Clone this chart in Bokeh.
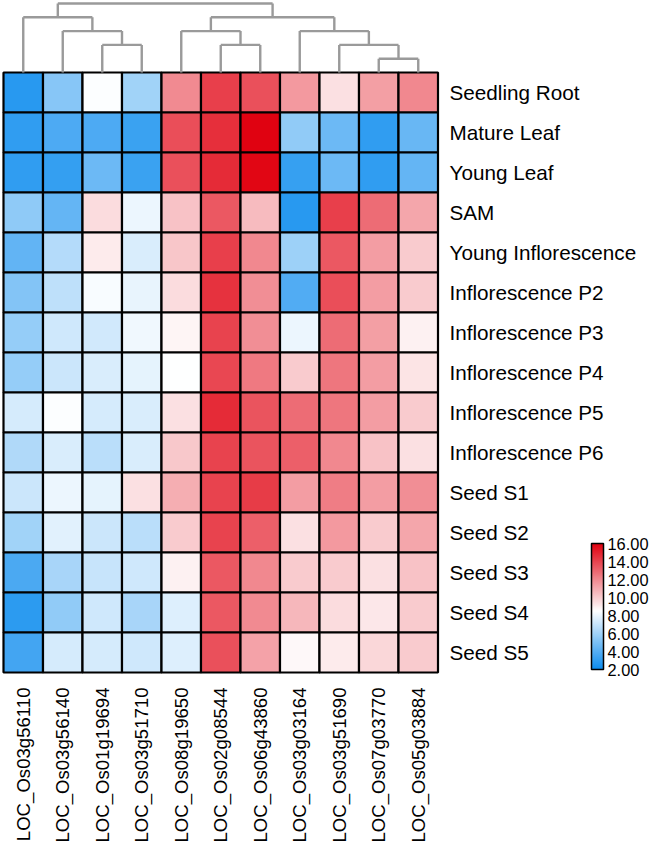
import numpy as np
from bokeh.plotting import figure
from bokeh.models import (ColumnDataSource, Range1d, LinearColorMapper, ColorBar,
                          FixedTicker, PrintfTickFormatter)
from bokeh.transform import transform
from bokeh.core.properties import value
from bokeh.embed import file_html
from bokeh.resources import INLINE

# ---------------- data ----------------
genes = ["LOC_Os03g56110", "LOC_Os03g56140", "LOC_Os01g19694", "LOC_Os03g51710",
         "LOC_Os08g19650", "LOC_Os02g08544", "LOC_Os06g43860", "LOC_Os03g03164",
         "LOC_Os03g51690", "LOC_Os07g03770", "LOC_Os05g03884"]
tissues = ["Seedling Root", "Mature Leaf", "Young Leaf", "SAM", "Young Inflorescence",
           "Inflorescence P2", "Inflorescence P3", "Inflorescence P4", "Inflorescence P5",
           "Inflorescence P6", "Seed S1", "Seed S2", "Seed S3", "Seed S4", "Seed S5"]

seedling_root = [2.8, 5.3, 8.4, 6.0, 11.9, 14.1, 13.6, 11.5, 9.4, 11.3, 12.0]
mature_leaf   = [3.0, 3.8, 3.8, 3.3, 13.7, 14.6, 15.9, 5.6, 4.6, 3.0, 4.5]
young_leaf    = [3.0, 3.1, 4.6, 3.3, 13.6, 14.7, 15.8, 3.2, 4.6, 3.0, 4.4]
sam           = [5.5, 4.4, 9.5, 8.0, 10.3, 13.4, 10.5, 2.8, 14.1, 12.8, 11.1]
young_infl    = [4.3, 6.5, 9.1, 7.5, 10.2, 14.1, 12.0, 5.9, 13.4, 11.4, 10.0]
infl_p2       = [5.2, 6.8, 8.3, 7.9, 9.5, 14.5, 11.8, 3.9, 13.7, 11.4, 10.0]
infl_p3       = [5.7, 7.2, 7.3, 8.1, 8.8, 14.0, 11.8, 8.0, 12.8, 11.3, 8.9]
infl_p4       = [5.7, 7.1, 7.5, 7.8, 8.5, 13.9, 12.4, 10.0, 12.5, 11.4, 9.3]
infl_p5       = [7.4, 8.4, 7.4, 7.5, 9.4, 14.7, 13.5, 12.8, 12.5, 11.4, 10.0]
infl_p6       = [6.4, 7.5, 6.7, 7.5, 10.1, 14.0, 13.5, 13.2, 12.0, 10.3, 9.4]
seed_s1       = [7.1, 8.0, 7.8, 9.4, 10.9, 14.0, 14.2, 11.4, 12.3, 11.4, 11.8]
seed_s2       = [6.0, 7.7, 7.1, 6.7, 10.0, 14.0, 13.2, 9.4, 11.5, 10.0, 11.1]
seed_s3       = [3.7, 6.2, 7.0, 7.2, 8.9, 13.4, 12.0, 10.0, 10.0, 9.4, 10.3]
seed_s4       = [2.9, 5.6, 7.2, 6.2, 7.6, 13.4, 11.9, 10.6, 9.5, 9.2, 10.0]
seed_s5       = [3.5, 7.4, 7.4, 7.2, 7.6, 13.6, 11.2, 8.7, 9.1, 9.7, 10.0]

rows = [seedling_root, mature_leaf, young_leaf, sam, young_infl, infl_p2, infl_p3,
        infl_p4, infl_p5, infl_p6, seed_s1, seed_s2, seed_s3, seed_s4, seed_s5]

# column dendrogram: (left node, right node, height); leaves are 0..10
merges = [(9, 10, 1), (2, 3, 2), (5, 6, 2), (8, 11, 2), (1, 12, 3),
          (4, 13, 3), (7, 14, 3), (0, 15, 4), (16, 17, 4), (18, 19, 5)]

color_ticks = [2, 4, 6, 8, 10, 12, 14, 16]
vmin, vmid, vmax = 2, 8.5, 16

# ---------------- layout ----------------
W, H = 650, 844
col_w, row_h = 39.5, 40.0
left_px, top_px = 3, 72
dend_unit = 13.8     # px per dendrogram height unit

def hexc(c):
    return "#%02x%02x%02x" % tuple(int(round(x)) for x in c)

blue = np.array([0x0B, 0x8B, 0xEE])
white = np.array([255, 255, 255])
red = np.array([0xE0, 0x00, 0x0F])
palette = []
for v in np.linspace(vmin, vmax, 256):
    if v <= vmid:
        t = (vmid - v) / (vmid - vmin)
        c = white + (blue - white) * t
    else:
        t = (v - vmid) / (vmax - vmid)
        c = white + (red - white) * t
    palette.append(hexc(c))
mapper = LinearColorMapper(palette=palette, low=vmin, high=vmax)

x0 = -left_px / col_w
p = figure(width=W, height=H, output_backend="svg", toolbar_location=None,
           x_range=Range1d(x0, x0 + W / col_w),
           y_range=Range1d((H - top_px) / row_h, -top_px / row_h),
           x_axis_location=None, y_axis_location=None, min_border=0,
           outline_line_color=None)
p.grid.visible = False

xs, ys, vals = [], [], []
for r, row in enumerate(rows):
    for c, v in enumerate(row):
        xs.append(c + 0.5)
        ys.append(r + 0.5)
        vals.append(v)
src = ColumnDataSource(dict(x=xs, y=ys, v=vals))
p.rect("x", "y", width=1, height=1, source=src,
       fill_color=transform("v", mapper), line_color="black", line_width=2.2)

# dendrogram
pos = {i: (i + 0.5, 0.0) for i in range(len(genes))}
seg_x0, seg_y0, seg_x1, seg_y1 = [], [], [], []
nid = len(genes)
for a, b, h in merges:
    (xa, ya), (xb, yb) = pos[a], pos[b]
    yh = -h * dend_unit / row_h
    seg_x0 += [xa, xb, xa]
    seg_y0 += [ya, yb, yh]
    seg_x1 += [xa, xb, xb]
    seg_y1 += [yh, yh, yh]
    pos[nid] = ((xa + xb) / 2, yh)
    nid += 1
p.segment(seg_x0, seg_y0, seg_x1, seg_y1, line_color="#9a9a9a", line_width=2.4)

# row labels
p.text(x=[len(genes)] * len(tissues), y=[r + 0.5 for r in range(len(tissues))],
       text=tissues, x_offset=11.5, text_baseline="middle", text_align="left",
       text_font=value("Liberation Sans"), text_font_size="20.7px", text_color="black")

# column labels
p.text(x=[c + 0.5 for c in range(len(genes))], y=[len(tissues)] * len(genes),
       text=genes, y_offset=15, angle=np.pi / 2, text_baseline="middle",
       text_align="right", text_font=value("Liberation Sans"),
       text_font_size="18.6px", text_color="black")

cb = ColorBar(color_mapper=mapper, location=(591, H - 669), width=12, height=126,
              orientation="vertical", padding=0, label_standoff=4,
              ticker=FixedTicker(ticks=color_ticks),
              formatter=PrintfTickFormatter(format="%.2f"),
              major_tick_line_color=None, minor_tick_line_color=None,
              bar_line_color="black", bar_line_width=1.5,
              major_label_text_font="Liberation Sans",
              major_label_text_font_size="16.4px",
              major_label_text_color="black",
              background_fill_alpha=0, border_line_color=None)
p.add_layout(cb, "center")

open("out.html", "w").write(file_html(p, INLINE))
